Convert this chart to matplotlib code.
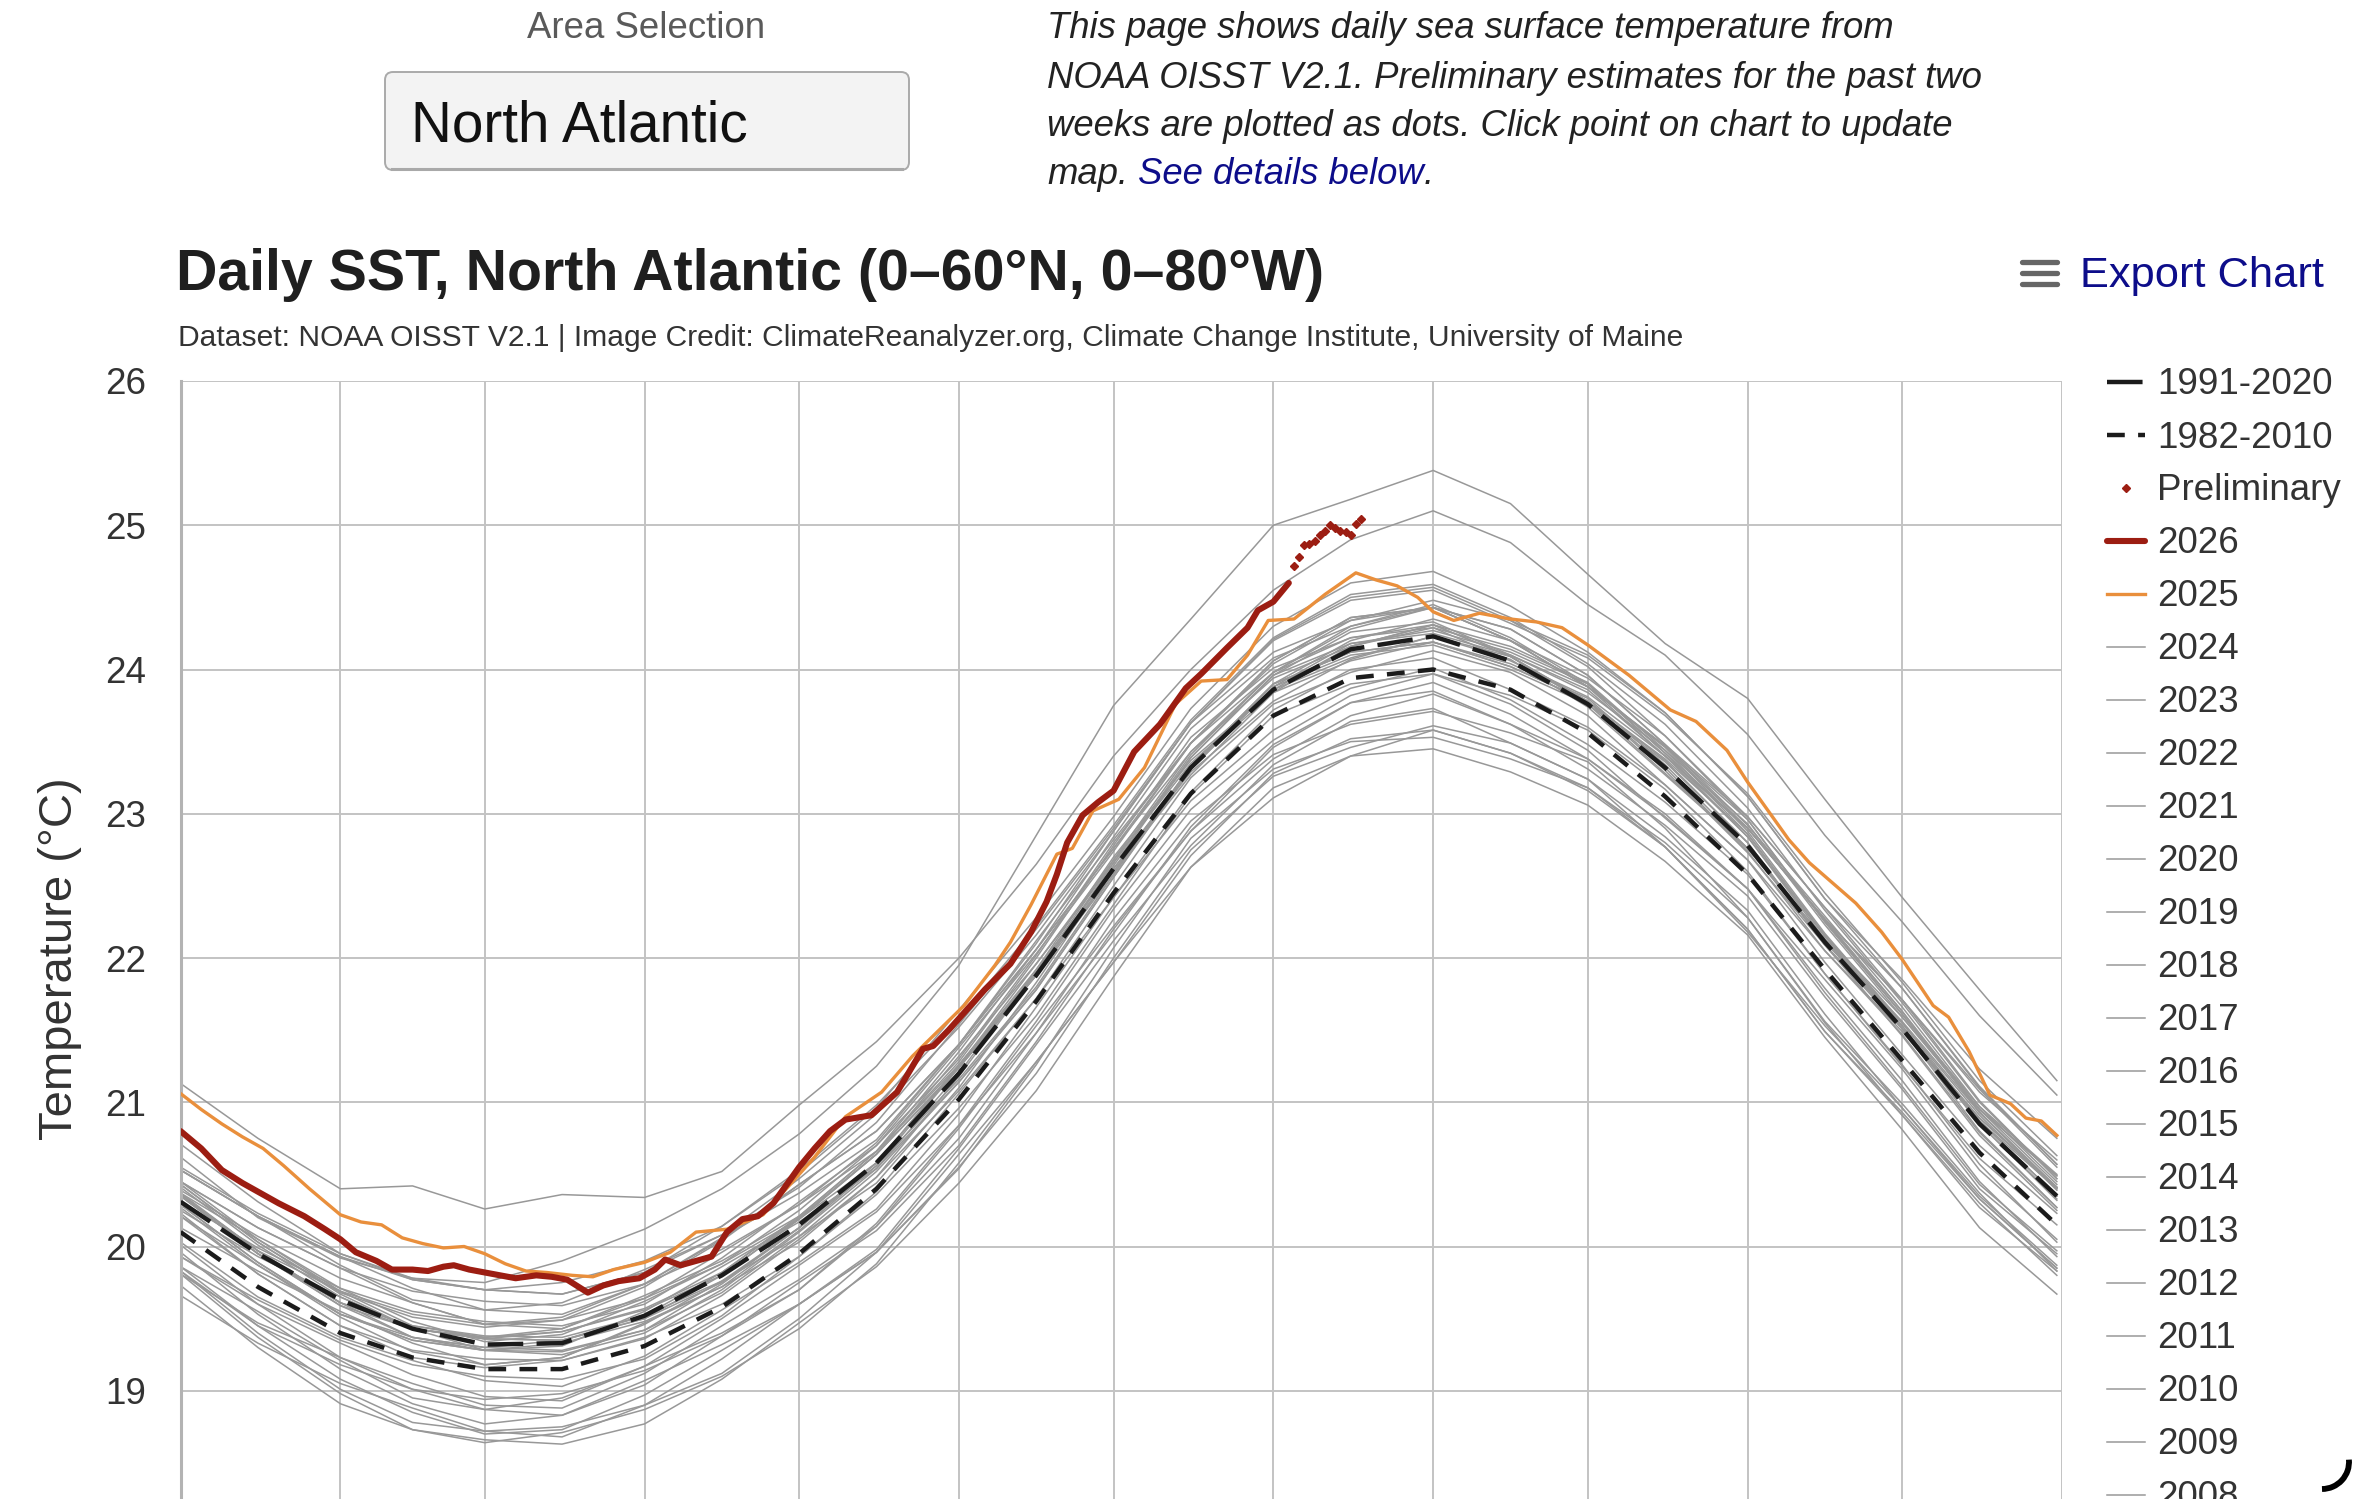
import matplotlib
matplotlib.use('Agg')
import matplotlib.pyplot as plt
from matplotlib.lines import Line2D
from matplotlib.patches import FancyBboxPatch, Arc
from matplotlib.transforms import IdentityTransform

plt.rcParams['font.family'] = ['Liberation Sans', 'DejaVu Sans']

# ---- values (day of year, deg C) ----
sample_doy = [1, 16, 32, 46, 60, 75, 91, 106, 121, 136, 152, 167, 182,
              197, 213, 228, 244, 259, 274, 289, 305, 320, 335, 350, 365]

clim_1991_2020 = [20.31, 19.95, 19.63, 19.43, 19.32, 19.33, 19.52, 19.80, 20.15, 20.58, 21.20, 21.88, 22.62,
                  23.32, 23.86, 24.14, 24.23, 24.06, 23.76, 23.32, 22.78, 22.11, 21.51, 20.85, 20.35]
clim_1982_2010 = [20.10, 19.72, 19.40, 19.23, 19.15, 19.15, 19.31, 19.58, 19.95, 20.40, 21.02, 21.70, 22.45,
                  23.14, 23.68, 23.94, 24.00, 23.86, 23.56, 23.12, 22.58, 21.92, 21.29, 20.65, 20.15]

doy_2025 = [1, 5, 9, 13, 17, 21, 26, 32, 36, 40, 44, 48, 52, 56, 60, 64, 68, 72, 77, 81, 85,
            91, 96, 101, 107, 114, 118, 124, 130, 137, 143, 147, 153, 159, 162, 166, 171, 174,
            178, 183, 188, 194, 199, 204, 208, 212, 217, 223, 229, 233, 237, 241, 244, 248, 253,
            259, 264, 269, 274, 282, 290, 295, 301, 305, 313, 317, 326, 331, 335, 341, 344, 348,
            352, 356, 359, 362, 365]
sst_2025 = [21.06, 20.95, 20.85, 20.76, 20.68, 20.56, 20.40, 20.22, 20.17, 20.15, 20.06, 20.02, 19.99,
            20.00, 19.95, 19.88, 19.83, 19.82, 19.80, 19.79, 19.84, 19.89, 19.96, 20.10, 20.12, 20.22,
            20.38, 20.62, 20.90, 21.07, 21.32, 21.46, 21.67, 21.95, 22.11, 22.37, 22.72, 22.76, 23.02,
            23.10, 23.32, 23.76, 23.92, 23.93, 24.10, 24.34, 24.35, 24.52, 24.67, 24.62, 24.58, 24.50,
            24.40, 24.34, 24.39, 24.35, 24.33, 24.29, 24.17, 23.96, 23.72, 23.64, 23.44, 23.22, 22.82,
            22.66, 22.38, 22.18, 21.99, 21.67, 21.59, 21.35, 21.05, 20.99, 20.89, 20.87, 20.77]

doy_2026 = [1, 5, 9, 13, 16, 20, 25, 29, 32, 35, 39, 42, 46, 49, 52, 54, 57, 60, 63, 66,
            70, 73, 76, 80, 83, 86, 90, 93, 95, 98, 101, 104, 107, 110, 113, 116, 118, 121, 124, 127,
            130, 135, 140, 143, 145, 147, 150, 153, 157, 162, 166, 169, 171, 173, 176, 179, 182, 186,
            191, 196, 199, 204, 208, 210, 213, 216]
sst_2026 = [20.80, 20.68, 20.53, 20.44, 20.38, 20.30, 20.21, 20.12, 20.05, 19.96, 19.90, 19.84, 19.84,
            19.83, 19.86, 19.87, 19.84, 19.82, 19.80, 19.78, 19.80, 19.79, 19.77, 19.68, 19.73, 19.76,
            19.78, 19.84, 19.91, 19.87, 19.90, 19.93, 20.10, 20.19, 20.21, 20.30, 20.40, 20.55, 20.68,
            20.80, 20.88, 20.91, 21.07, 21.25, 21.37, 21.39, 21.50, 21.62, 21.78, 21.96, 22.18, 22.39,
            22.58, 22.80, 22.99, 23.08, 23.16, 23.43, 23.62, 23.87, 23.97, 24.15, 24.29, 24.41, 24.47,
            24.60]

prelim_doy = [217, 218, 219, 220, 221, 222, 223, 224, 225, 226, 227, 228, 229, 230]
prelim_sst = [24.72, 24.78, 24.86, 24.87, 24.89, 24.93, 24.96, 25.00, 24.98, 24.96, 24.95, 24.93, 25.01, 25.04]

sst_2024 = [21.13, 20.75, 20.40, 20.42, 20.26, 20.36, 20.34, 20.52, 20.98, 21.42, 22.00, 22.65, 23.40,
            24.00, 24.55, 24.90, 25.10, 24.88, 24.45, 24.10, 23.55, 22.85, 22.25, 21.60, 21.05]
sst_2023 = [20.62, 20.20, 19.92, 19.78, 19.75, 19.90, 20.12, 20.40, 20.78, 21.25, 21.95, 22.85, 23.75,
            24.35, 25.00, 25.18, 25.38, 25.15, 24.66, 24.18, 23.80, 23.10, 22.42, 21.78, 21.15]
sst_2022 = [20.71, 20.31, 19.95, 19.77, 19.70, 19.67, 19.82, 20.08, 20.47, 20.92, 21.52, 22.16, 22.88,
            23.63, 24.20, 24.48, 24.55, 24.32, 24.08, 23.68, 23.14, 22.45, 21.83, 21.15, 20.63]
sst_2021 = [20.53, 20.21, 19.87, 19.63, 19.56, 19.61, 19.84, 20.08, 20.41, 20.86, 21.54, 22.20, 22.90,
            23.63, 24.21, 24.50, 24.57, 24.34, 24.10, 23.70, 23.12, 22.41, 21.85, 21.23, 20.75]
sst_2020 = [20.53, 20.21, 19.93, 19.77, 19.70, 19.75, 19.90, 20.14, 20.51, 20.96, 21.64, 22.28, 22.98,
            23.73, 24.30, 24.60, 24.68, 24.44, 24.12, 23.70, 23.12, 22.41, 21.79, 21.10, 20.57]
sst_2019 = [20.45, 20.05, 19.71, 19.55, 19.48, 19.45, 19.60, 19.92, 20.31, 20.70, 21.30, 22.02, 22.80,
            23.49, 23.98, 24.28, 24.43, 24.28, 23.96, 23.48, 22.98, 22.35, 21.79, 21.11, 20.57]
sst_2018 = [20.41, 20.01, 19.65, 19.43, 19.36, 19.35, 19.50, 19.80, 20.19, 20.64, 21.24, 21.88, 22.64,
            23.39, 23.96, 24.18, 24.25, 24.10, 23.86, 23.40, 22.90, 22.26, 21.63, 20.95, 20.49]
sst_2017 = [20.45, 20.13, 19.85, 19.69, 19.62, 19.59, 19.74, 20.05, 20.43, 20.80, 21.40, 22.06, 22.84,
            23.59, 24.08, 24.30, 24.43, 24.28, 23.96, 23.48, 22.92, 22.29, 21.66, 20.97, 20.45]
sst_2016 = [20.53, 20.21, 19.93, 19.71, 19.56, 19.53, 19.74, 20.06, 20.37, 20.74, 21.40, 22.12, 22.82,
            23.49, 24.04, 24.34, 24.43, 24.20, 23.88, 23.47, 22.96, 22.25, 21.61, 20.97, 20.50]
sst_2015 = [20.37, 19.97, 19.61, 19.37, 19.28, 19.33, 19.48, 19.72, 20.11, 20.56, 21.24, 21.88, 22.58,
            23.33, 23.90, 24.20, 24.35, 24.20, 23.88, 23.40, 22.90, 22.27, 21.71, 21.09, 20.55]
sst_2014 = [20.35, 19.95, 19.61, 19.45, 19.38, 19.37, 19.52, 19.82, 20.21, 20.66, 21.26, 21.90, 22.68,
            23.43, 23.94, 24.16, 24.29, 24.14, 23.90, 23.42, 22.84, 22.15, 21.59, 20.95, 20.43]
sst_2013 = [20.31, 19.99, 19.71, 19.48, 19.34, 19.39, 19.62, 19.88, 20.19, 20.58, 21.25, 21.96, 22.68,
            23.35, 23.86, 24.16, 24.31, 24.09, 23.78, 23.38, 22.86, 22.15, 21.51, 20.87, 20.40]
sst_2012 = [20.36, 19.97, 19.69, 19.53, 19.46, 19.51, 19.74, 19.98, 20.29, 20.72, 21.40, 22.06, 22.76,
            23.49, 24.06, 24.36, 24.43, 24.20, 23.88, 23.46, 22.88, 22.17, 21.55, 20.87, 20.35]
sst_2011 = [20.43, 20.03, 19.67, 19.43, 19.36, 19.41, 19.57, 19.82, 20.20, 20.64, 21.24, 21.88, 22.66,
            23.41, 23.98, 24.22, 24.29, 24.06, 23.81, 23.40, 22.84, 22.13, 21.51, 20.89, 20.41]
sst_2010 = [20.55, 20.23, 19.95, 19.78, 19.70, 19.67, 19.82, 20.14, 20.53, 20.98, 21.58, 22.22, 22.92,
            23.65, 24.22, 24.52, 24.59, 24.36, 24.04, 23.62, 23.04, 22.33, 21.69, 21.00, 20.47]
sst_2009 = [20.35, 19.95, 19.59, 19.37, 19.30, 19.35, 19.52, 19.76, 20.13, 20.58, 21.26, 21.92, 22.62,
            23.31, 23.88, 24.18, 24.27, 24.12, 23.88, 23.47, 22.90, 22.27, 21.71, 21.07, 20.60]
sst_2008 = [20.29, 19.89, 19.53, 19.35, 19.28, 19.27, 19.42, 19.74, 20.13, 20.56, 21.16, 21.80, 22.58,
            23.33, 23.84, 24.06, 24.19, 24.04, 23.80, 23.34, 22.76, 22.11, 21.55, 20.91, 20.39]
sst_2007 = [20.36, 19.97, 19.61, 19.43, 19.36, 19.35, 19.50, 19.75, 20.13, 20.58, 21.25, 21.90, 22.60,
            23.33, 23.90, 24.12, 24.19, 24.02, 23.78, 23.32, 22.74, 22.05, 21.49, 20.87, 20.35]
sst_2006 = [20.43, 20.03, 19.68, 19.51, 19.44, 19.49, 19.64, 19.88, 20.25, 20.70, 21.38, 22.03, 22.74,
            23.49, 24.06, 24.36, 24.43, 24.20, 23.94, 23.54, 22.96, 22.25, 21.61, 20.93, 20.41]
sst_2005 = [20.45, 20.13, 19.85, 19.61, 19.46, 19.49, 19.72, 20.04, 20.43, 20.80, 21.40, 22.10, 22.88,
            23.63, 24.12, 24.34, 24.48, 24.34, 24.02, 23.54, 22.98, 22.35, 21.71, 21.01, 20.47]
sst_2004 = [20.35, 19.95, 19.59, 19.43, 19.37, 19.41, 19.56, 19.80, 20.19, 20.64, 21.32, 21.96, 22.66,
            23.39, 23.96, 24.26, 24.33, 24.10, 23.84, 23.44, 22.93, 22.23, 21.59, 20.95, 20.49]
sst_2003 = [20.37, 20.05, 19.69, 19.45, 19.37, 19.43, 19.66, 19.90, 20.21, 20.66, 21.35, 22.06, 22.76,
            23.43, 23.98, 24.30, 24.45, 24.22, 23.90, 23.42, 22.90, 22.27, 21.63, 20.93, 20.40]
sst_2002 = [20.27, 19.87, 19.53, 19.37, 19.30, 19.28, 19.42, 19.68, 20.07, 20.52, 21.14, 21.78, 22.56,
            23.33, 23.90, 24.12, 24.19, 24.02, 23.78, 23.37, 22.80, 22.09, 21.51, 20.89, 20.41]
sst_2001 = [20.25, 19.93, 19.65, 19.43, 19.28, 19.31, 19.55, 19.86, 20.17, 20.54, 21.20, 21.92, 22.70,
            23.37, 23.86, 24.08, 24.23, 24.09, 23.78, 23.30, 22.73, 22.09, 21.53, 20.85, 20.32]
sst_2000 = [20.21, 19.81, 19.45, 19.28, 19.22, 19.21, 19.36, 19.66, 20.05, 20.48, 21.08, 21.72, 22.50,
            23.25, 23.76, 23.98, 24.13, 23.98, 23.68, 23.20, 22.68, 22.05, 21.47, 20.79, 20.27]
sst_1999 = [20.29, 19.89, 19.53, 19.35, 19.28, 19.25, 19.40, 19.70, 20.10, 20.54, 21.14, 21.78, 22.56,
            23.31, 23.88, 24.10, 24.17, 24.00, 23.76, 23.36, 22.80, 22.09, 21.46, 20.77, 20.25]
sst_1998 = [20.39, 20.07, 19.78, 19.61, 19.46, 19.43, 19.64, 19.96, 20.29, 20.66, 21.28, 22.00, 22.78,
            23.53, 24.01, 24.22, 24.31, 24.16, 23.91, 23.44, 22.86, 22.16, 21.53, 20.85, 20.33]
sst_1997 = [20.21, 19.87, 19.51, 19.27, 19.18, 19.23, 19.46, 19.76, 20.07, 20.44, 21.10, 21.83, 22.62,
            23.29, 23.78, 24.07, 24.23, 24.07, 23.74, 23.27, 22.76, 22.13, 21.56, 20.93, 20.41]
sst_1996 = [20.23, 19.81, 19.45, 19.23, 19.16, 19.21, 19.37, 19.60, 19.93, 20.38, 21.06, 21.72, 22.42,
            23.15, 23.72, 24.00, 24.08, 23.86, 23.60, 23.20, 22.68, 21.97, 21.33, 20.70, 20.23]
sst_1995 = [20.13, 19.83, 19.55, 19.33, 19.18, 19.23, 19.47, 19.72, 20.03, 20.48, 21.18, 21.90, 22.60,
            23.27, 23.84, 24.16, 24.31, 24.09, 23.76, 23.28, 22.76, 22.13, 21.51, 20.80, 20.27]
sst_1994 = [20.03, 19.65, 19.37, 19.21, 19.07, 19.03, 19.24, 19.56, 19.89, 20.26, 20.92, 21.66, 22.42,
            23.09, 23.58, 23.87, 24.01, 23.79, 23.48, 23.08, 22.58, 21.89, 21.25, 20.61, 20.15]
sst_1993 = [19.93, 19.60, 19.33, 19.11, 18.96, 18.93, 19.17, 19.50, 19.87, 20.24, 20.84, 21.56, 22.34,
            23.03, 23.51, 23.82, 23.97, 23.76, 23.44, 22.97, 22.48, 21.85, 21.23, 20.53, 20.05]
sst_1992 = [20.01, 19.60, 19.23, 19.01, 18.94, 18.98, 19.14, 19.38, 19.70, 20.16, 20.84, 21.48, 22.17,
            22.91, 23.48, 23.77, 23.91, 23.69, 23.38, 22.98, 22.48, 21.79, 21.15, 20.45, 19.93]
sst_1991 = [19.93, 19.63, 19.35, 19.18, 19.10, 19.08, 19.22, 19.52, 19.93, 20.36, 20.96, 21.60, 22.37,
            23.13, 23.68, 23.90, 23.97, 23.82, 23.58, 23.17, 22.60, 21.89, 21.26, 20.57, 20.03]
sst_1990 = [19.83, 19.45, 19.18, 19.01, 18.87, 18.83, 19.04, 19.38, 19.75, 20.11, 20.70, 21.42, 22.20,
            22.88, 23.38, 23.68, 23.83, 23.62, 23.31, 22.92, 22.43, 21.73, 21.09, 20.40, 19.95]
sst_1989 = [19.83, 19.40, 19.01, 18.78, 18.72, 18.75, 18.90, 19.12, 19.50, 19.96, 20.64, 21.28, 21.97,
            22.71, 23.28, 23.52, 23.58, 23.42, 23.18, 22.77, 22.20, 21.49, 20.93, 20.33, 19.85]
sst_1988 = [19.96, 19.53, 19.15, 18.91, 18.77, 18.83, 19.07, 19.32, 19.60, 19.98, 20.68, 21.40, 22.12,
            22.78, 23.34, 23.64, 23.73, 23.49, 23.24, 22.84, 22.33, 21.61, 20.96, 20.33, 19.85]
sst_1987 = [19.86, 19.55, 19.21, 18.95, 18.87, 18.95, 19.17, 19.40, 19.70, 20.14, 20.82, 21.53, 22.22,
            22.88, 23.46, 23.77, 23.85, 23.62, 23.38, 23.00, 22.48, 21.76, 21.11, 20.43, 19.97]
sst_1986 = [19.66, 19.33, 19.05, 18.88, 18.72, 18.68, 18.90, 19.22, 19.60, 19.96, 20.55, 21.20, 22.00,
            22.75, 23.26, 23.46, 23.61, 23.49, 23.24, 22.77, 22.18, 21.53, 20.96, 20.35, 19.87]
sst_1985 = [19.73, 19.30, 18.91, 18.73, 18.66, 18.63, 18.77, 19.08, 19.47, 19.86, 20.44, 21.08, 21.87,
            22.63, 23.18, 23.40, 23.45, 23.29, 23.06, 22.67, 22.16, 21.45, 20.81, 20.13, 19.67]
sst_1984 = [19.81, 19.37, 18.98, 18.73, 18.64, 18.71, 18.87, 19.10, 19.43, 19.88, 20.58, 21.28, 21.97,
            22.63, 23.11, 23.40, 23.58, 23.42, 23.16, 22.77, 22.20, 21.49, 20.91, 20.30, 19.80]
sst_1983 = [19.81, 19.47, 19.23, 19.05, 18.90, 18.88, 19.12, 19.45, 19.77, 20.14, 20.75, 21.48, 22.27,
            22.95, 23.41, 23.62, 23.71, 23.56, 23.36, 22.90, 22.28, 21.56, 20.99, 20.37, 19.83]
sst_1982 = [19.86, 19.45, 19.08, 18.85, 18.70, 18.73, 18.97, 19.28, 19.60, 19.96, 20.54, 21.26, 22.07,
            22.83, 23.31, 23.50, 23.53, 23.38, 23.18, 22.80, 22.28, 21.55, 20.91, 20.27, 19.83]

month_start_doy = [1, 32, 60, 91, 121, 152, 182, 213, 244, 274, 305, 335, 366]
temp_ticks = [18, 19, 20, 21, 22, 23, 24, 25, 26]

gray_years = {2024: sst_2024, 2023: sst_2023, 2022: sst_2022, 2021: sst_2021, 2020: sst_2020,
              2019: sst_2019, 2018: sst_2018, 2017: sst_2017, 2016: sst_2016, 2015: sst_2015,
              2014: sst_2014, 2013: sst_2013, 2012: sst_2012, 2011: sst_2011, 2010: sst_2010,
              2009: sst_2009, 2008: sst_2008, 2007: sst_2007, 2006: sst_2006, 2005: sst_2005,
              2004: sst_2004, 2003: sst_2003, 2002: sst_2002, 2001: sst_2001, 2000: sst_2000,
              1999: sst_1999, 1998: sst_1998, 1997: sst_1997, 1996: sst_1996, 1995: sst_1995,
              1994: sst_1994, 1993: sst_1993, 1992: sst_1992, 1991: sst_1991, 1990: sst_1990,
              1989: sst_1989, 1988: sst_1988, 1987: sst_1987, 1986: sst_1986, 1985: sst_1985,
              1984: sst_1984, 1983: sst_1983, 1982: sst_1982}

# the screenshot is cut below the 2008 legend entry
legend_years = list(range(2024, 2007, -1))

W, H = 2360, 1499
RED = '#9c1d12'
ORANGE = '#e98f3c'
GRAY = '#989898'
TXT = '#333333'
NAVY = '#0d0d8a'
DY = 4  # va='center' sits a little above the visual middle of the glyphs


def fx(px):
    return px / W


def fy(py):
    # py measured from the top of the picture
    return 1 - py / H


fig = plt.figure(figsize=(W / 100, H / 100), dpi=100)
fig.patch.set_facecolor('white')

# plot area: left 180.6 px, right 2062 px, 26 deg at 381 px, 144.25 px per degree
ax = fig.add_axes([fx(180.6), fy(381 + 8 * 144.25), fx(2062) - fx(180.6), 8 * 144.25 / H])

gray_lines = {}
for yr, vals in gray_years.items():
    gray_lines[yr], = ax.plot(sample_doy, vals, color=GRAY, lw=1.1, zorder=2)

l_9120, = ax.plot(sample_doy, clim_1991_2020, color='#1b1b1b', lw=3.2, dashes=(8, 3), zorder=4)
l_8210, = ax.plot(sample_doy, clim_1982_2010, color='#1b1b1b', lw=3.2, dashes=(4, 3), zorder=4)
l_2025, = ax.plot(doy_2025, sst_2025, color=ORANGE, lw=2.4, zorder=5)
l_2026, = ax.plot(doy_2026, sst_2026, color=RED, lw=4.4, zorder=6, solid_capstyle='round')
l_pre, = ax.plot(prelim_doy, prelim_sst, ls='none', marker='D', ms=3.8, color=RED, zorder=7)

ax.set_xlim(1, 366)
ax.set_ylim(18, 26)
ax.set_xticks(month_start_doy)
ax.set_xticklabels([''] * len(month_start_doy))
ax.set_yticks(temp_ticks)
# the 18 label lies below the cut of the screenshot
ax.set_yticklabels(['' if t == 18 else str(t) for t in temp_ticks])
ax.tick_params(axis='both', length=0)
ax.tick_params(axis='y', pad=25, labelsize=26.5, labelcolor=TXT)
ax.grid(True, color='#c3c3c3', lw=1.4)
ax.set_axisbelow(True)
for s in ['top', 'right', 'bottom']:
    ax.spines[s].set_visible(False)
ax.spines['left'].set_color('#b3b3b3')
ax.spines['left'].set_linewidth(2.2)

fig.text(fx(60), fy(959), 'Temperature (°C)', rotation=90, ha='center', va='center',
         fontsize=34, color=TXT)

# ---- header ----
title = fig.text(fx(176), fy(271 + DY), 'Daily SST, North Atlantic (0–60°N, 0–80°W)',
                 fontsize=38, fontweight='bold', color='#1f1f1f', ha='left', va='center')
sub = fig.text(fx(178), fy(334 + DY), 'Dataset: NOAA OISST V2.1 | Image Credit: ClimateReanalyzer.org, '
               'Climate Change Institute, University of Maine',
               fontsize=20, color=TXT, ha='left', va='center')
area_lbl = fig.text(fx(646), fy(25 + DY), 'Area Selection', fontsize=24, color='#5a5a5a',
                    ha='center', va='center')
box = FancyBboxPatch((385, H - 170), 524, 98, boxstyle='round,pad=0,rounding_size=8',
                     transform=IdentityTransform(), fc='#f3f3f3', ec='#aaaaaa', lw=1.4)
fig.add_artist(box)
fig.add_artist(Line2D([392, 902], [H - 169, H - 169], transform=IdentityTransform(),
                      color='#a9a9a9', lw=2.2))
na_txt = fig.text(fx(411), fy(122 + DY), 'North Atlantic', fontsize=34, color='#111111',
                  ha='left', va='center')

para = ['This page shows daily sea surface temperature from',
        'NOAA OISST V2.1. Preliminary estimates for the past two',
        'weeks are plotted as dots. Click point on chart to update']
para_y = [25, 74, 122]
para_txt = [fig.text(fx(1047), fy(y + DY), s, fontsize=24, style='italic', color='#222222',
                     ha='left', va='center') for s, y in zip(para, para_y)]
map_txt = fig.text(fx(1047), fy(170 + DY), 'map.', fontsize=24, style='italic', color='#222222',
                   ha='left', va='center')
link_txt = fig.text(fx(1140), fy(170 + DY), 'See details below', fontsize=24, style='italic',
                    color=NAVY, ha='left', va='center')
dot_txt = fig.text(fx(1430), fy(170 + DY), '.', fontsize=24, style='italic', color='#222222',
                   ha='left', va='center')

export_txt = fig.text(fx(2080), fy(272 + DY), 'Export Chart', fontsize=28, color=NAVY,
                      ha='left', va='center')
for yb in [262, 273, 284]:
    fig.add_artist(Line2D([2022, 2057], [H - yb, H - yb], transform=IdentityTransform(),
                          color='#666666', lw=3.8, solid_capstyle='round'))

# loading spinner remnant at bottom right
fig.add_artist(Arc((2322, 37), 54, 54, theta1=-90, theta2=5, transform=IdentityTransform(),
                   color='black', lw=4.2))

# ---- size texts to the widths seen in the reference ----
fig.canvas.draw()
r = fig.canvas.get_renderer()


def fit(t, w):
    bb = t.get_window_extent(r)
    t.set_fontsize(t.get_fontsize() * w / bb.width)


fit(title, 1145)
fit(sub, 1502)
fit(area_lbl, 238)
fit(na_txt, 337)
fit(export_txt, 244)
fit(para_txt[0], 852)
fs = para_txt[0].get_fontsize()
for t in para_txt[1:] + [map_txt, link_txt, dot_txt]:
    t.set_fontsize(fs)
fig.canvas.draw()
x_end = map_txt.get_window_extent(r).x1 + 0.28 * fs * 100 / 72
link_txt.set_x(x_end / W)
fig.canvas.draw()
dot_txt.set_x(link_txt.get_window_extent(r).x1 / W)

# ---- legend ----
handles = [l_9120, l_8210, l_pre, l_2026, l_2025] + [gray_lines[y] for y in legend_years]
labels = ['1991-2020', '1982-2010', 'Preliminary', '2026', '2025'] + [str(y) for y in legend_years]


def make_legend(spacing, top):
    lg = ax.legend(handles, labels, loc='upper left', bbox_to_anchor=(fx(2107), fy(top)),
                   bbox_transform=fig.transFigure, frameon=False, fontsize=26.5,
                   handlelength=1.03, handletextpad=0.33, labelspacing=spacing,
                   borderpad=0, borderaxespad=0)
    for t in lg.get_texts():
        t.set_color(TXT)
    return lg


spacing, top = 0.3, 360
leg = make_legend(spacing, top)
for _ in range(3):
    fig.canvas.draw()
    tx = leg.get_texts()
    b0 = tx[0].get_window_extent(r)
    b1 = tx[1].get_window_extent(r)
    pitch = b0.y0 - b1.y0
    spacing += (53 - pitch) / (26.5 * 100 / 72)
    c0 = H - (b0.y0 + b0.y1) / 2
    top += 381 + DY - c0
    leg.remove()
    leg = make_legend(spacing, top)

fig.savefig('out.png', dpi=100)
